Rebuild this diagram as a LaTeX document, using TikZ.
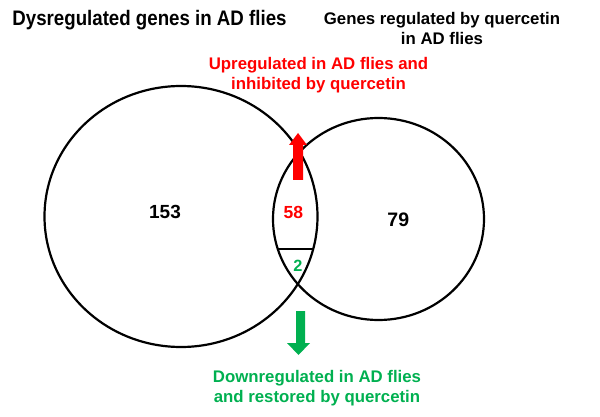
\documentclass[tikz,border=0pt]{standalone}
\usepackage{fontspec}
\setmainfont{Liberation Sans}
\usetikzlibrary{shapes.geometric}
\definecolor{vred}{RGB}{255,0,0}
\definecolor{vgreen}{RGB}{0,176,80}
\tikzset{
  setcirc/.style={ellipse, draw=black, line width=2.2pt, inner sep=0pt, outer sep=0pt},
  lbl/.style={inner sep=0pt, outer sep=0pt, font=\bfseries, align=center, anchor=base},
}
\begin{document}
\begin{tikzpicture}[x=1pt,y=-1pt]
\useasboundingbox (0,0) rectangle (600,417);
\node[setcirc, minimum width=273pt, minimum height=261pt] (A) at (181,216.5) {};
\node[setcirc, minimum width=211pt, minimum height=202pt] (B) at (378.5,219) {};
\begin{scope}
  \clip (181,216.5) ellipse [x radius=136.5, y radius=130.5];
  \clip (378.5,219) ellipse [x radius=105.5, y radius=101];
  \coordinate (d1) at (260,249);
  \coordinate (d2) at (330,249);
  \draw[line width=2pt] (d1) -- (d2);
\end{scope}
% arrows
\fill[vred] (298,133) -- (307,145) -- (303,145) -- (303,180) -- (293,180) -- (293,145) -- (289,145) -- cycle;
\fill[vgreen] (298.5,355) -- (310,343) -- (305,343) -- (305,311) -- (296,311) -- (296,343) -- (287,343) -- cycle;
% texts (multi-line nodes: base anchor = last line's baseline)
\node[lbl] (t1) at (149.5,25.3) {\scalebox{0.89}[1]{\fontsize{21}{24}\selectfont\bfseries Dysregulated genes in AD flies}};
\node[lbl, font=\fontsize{16.8}{20}\selectfont\bfseries] (t2) at (442,44.7) {Genes regulated by quercetin\\in AD flies};
\node[lbl, text=vred, font=\fontsize{16.8}{19.3}\selectfont\bfseries] (t3) at (318.5,89.3) {Upregulated in AD flies and\\inhibited by quercetin};
\node[lbl, text=vgreen, font=\fontsize{16.8}{19.3}\selectfont\bfseries] (t4) at (317,402) {Downregulated in AD flies\\and restored by quercetin};
\node[lbl, font=\fontsize{19}{22}\selectfont\bfseries] (n153) at (165,218.3) {153};
\node[lbl, font=\fontsize{19.5}{22}\selectfont\bfseries] (n79) at (398.3,226) {79};
\node[lbl, text=vred, font=\fontsize{17.5}{20}\selectfont\bfseries] (n58) at (293.3,218.3) {58};
\node[lbl, text=vgreen, font=\fontsize{16.3}{20}\selectfont\bfseries] (n2) at (298,271.7) {2};
\end{tikzpicture}
\end{document}
